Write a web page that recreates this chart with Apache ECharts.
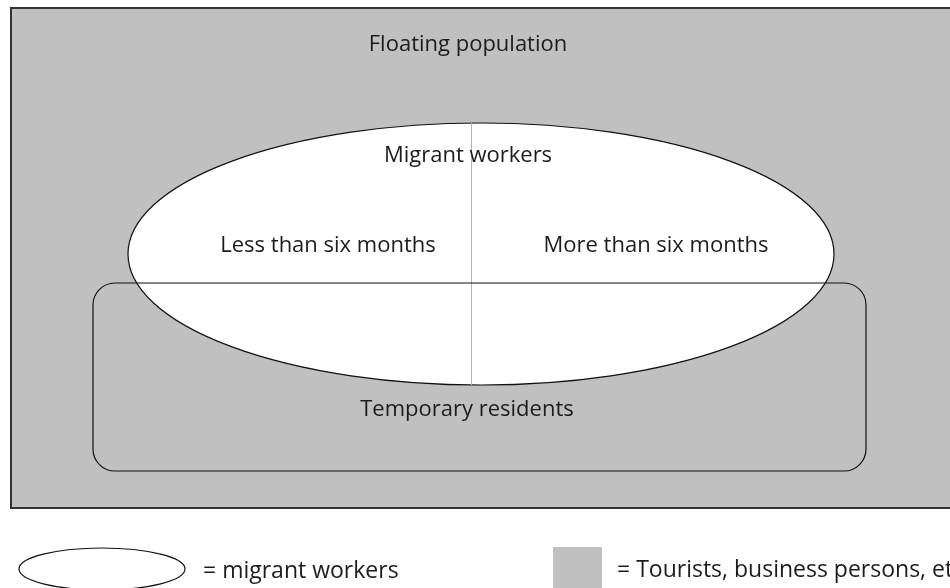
<!DOCTYPE html>
<html>
<head>
<meta charset="utf-8">
<script src="https://cdn.jsdelivr.net/npm/echarts@6/dist/echarts.min.js"></script>
<style>
  html, body { margin:0; padding:0; background:#fff; }
  #main { width:950px; height:588px; }
</style>
</head>
<body>
<div id="main"></div>
<script>
// diagram pieces, in page pixels (x right, y down)
const frameBox = [11, 8, 962, 508];          // x0, y0, x1, y1
const workerOval = [481, 254, 353, 131];     // cx, cy, rx, ry
const residentBox = [93, 283, 866, 471];     // x0, y0, x1, y1
const splitLine = [471, 123, 471, 385];      // x0, y0, x1, y1
const legendOval = [102, 569, 83, 21];
const legendSwatch = [553, 547, 602, 600];

const regionLabels = ['Floating population', 'Migrant workers', 'Less than six months', 'More than six months', 'Temporary residents'];
const regionLabelX = [468, 468, 328, 656, 467];
const regionLabelY = [45, 156, 246, 246, 410];

const legendLabels = ['= migrant workers', '= Tourists, business persons, etc'];
const legendLabelX = [203, 617];
const legendLabelY = [571, 570];

const GREY = '#c0c0c0';
const INK = '#1c1c1c';
const FONT = '"Open Sans", "Noto Sans", sans-serif';

function ovalPath(api, o) {
    const c = api.coord([o[0], o[1]]);
    const s = api.size([o[2], o[3]]);
    const rx = s[0], ry = s[1];
    return 'M ' + (c[0] - rx) + ' ' + c[1] +
        ' A ' + rx + ' ' + ry + ' 0 1 0 ' + (c[0] + rx) + ' ' + c[1] +
        ' A ' + rx + ' ' + ry + ' 0 1 0 ' + (c[0] - rx) + ' ' + c[1] + ' Z';
}

function boxShape(api, b) {
    const p0 = api.coord([b[0], b[1]]);
    const p1 = api.coord([b[2], b[3]]);
    return { x: p0[0], y: p0[1], width: p1[0] - p0[0], height: p1[1] - p0[1] };
}

const shapeData = [['frame'], ['oval'], ['split'], ['residents'], ['legendOval'], ['swatch']];

const myChart = echarts.init(document.getElementById('main'), null, { renderer: 'canvas' });

const option = {
    backgroundColor: '#fff',
    animation: false,
    grid: { left: 0, right: 0, top: 0, bottom: 0 },
    xAxis: { type: 'value', min: 0, max: 950, show: false },
    yAxis: { type: 'value', min: 0, max: 588, inverse: true, show: false },
    series: [
        {
            type: 'custom',
            silent: true,
            clip: false,
            data: shapeData,
            renderItem: function (params, api) {
                const kind = shapeData[params.dataIndex][0];
                if (kind === 'frame') {
                    return {
                        type: 'rect',
                        shape: boxShape(api, frameBox),
                        style: { fill: GREY, stroke: '#333', lineWidth: 2 }
                    };
                }
                if (kind === 'oval') {
                    return {
                        type: 'path',
                        shape: { pathData: ovalPath(api, workerOval) },
                        style: { fill: '#fff', stroke: '#111', lineWidth: 1.2 }
                    };
                }
                if (kind === 'split') {
                    const a = api.coord([splitLine[0], splitLine[1]]);
                    const b = api.coord([splitLine[2], splitLine[3]]);
                    return {
                        type: 'line',
                        shape: { x1: a[0] + 0.5, y1: a[1], x2: b[0] + 0.5, y2: b[1] },
                        style: { stroke: '#b4b4b4', lineWidth: 1 }
                    };
                }
                if (kind === 'residents') {
                    const sh = boxShape(api, residentBox);
                    sh.r = 22;
                    return {
                        type: 'rect',
                        shape: sh,
                        style: { fill: 'none', stroke: '#111', lineWidth: 1.2 }
                    };
                }
                if (kind === 'legendOval') {
                    return {
                        type: 'path',
                        shape: { pathData: ovalPath(api, legendOval) },
                        style: { fill: '#fff', stroke: '#111', lineWidth: 1.2 }
                    };
                }
                return {
                    type: 'rect',
                    shape: boxShape(api, legendSwatch),
                    style: { fill: GREY, stroke: 'none' }
                };
            }
        },
        {
            type: 'custom',
            silent: true,
            clip: false,
            data: regionLabels.map((t, i) => [regionLabelX[i], regionLabelY[i], t]),
            renderItem: function (params, api) {
                const p = api.coord([api.value(0), api.value(1)]);
                return {
                    type: 'text',
                    x: p[0], y: p[1],
                    style: {
                        text: regionLabels[params.dataIndex],
                        fill: INK,
                        font: '22px ' + FONT,
                        textAlign: 'center',
                        textVerticalAlign: 'middle'
                    }
                };
            }
        },
        {
            type: 'custom',
            silent: true,
            clip: false,
            data: legendLabels.map((t, i) => [legendLabelX[i], legendLabelY[i], t]),
            renderItem: function (params, api) {
                const p = api.coord([api.value(0), api.value(1)]);
                return {
                    type: 'text',
                    x: p[0], y: p[1],
                    style: {
                        text: legendLabels[params.dataIndex],
                        fill: INK,
                        font: '23px ' + FONT,
                        textAlign: 'left',
                        textVerticalAlign: 'middle'
                    }
                };
            }
        }
    ]
};
myChart.setOption(option);
window.addEventListener('resize', function () { myChart.resize(); });
</script>
</body>
</html>
